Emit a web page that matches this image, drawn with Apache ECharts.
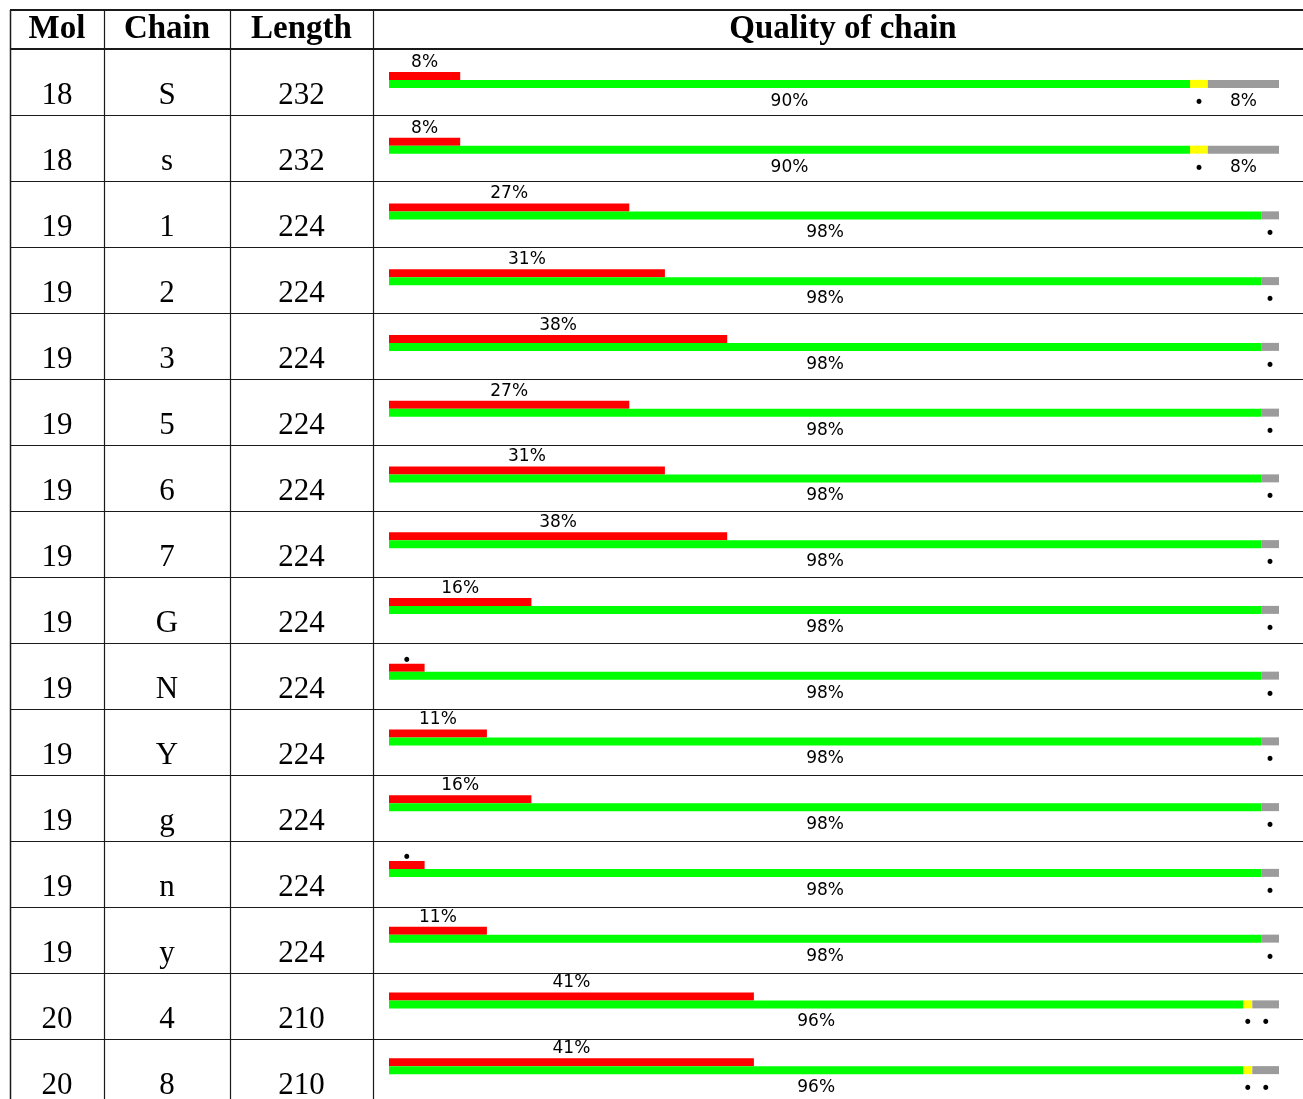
<!DOCTYPE html>
<html>
<head>
<meta charset="utf-8">
<script src="https://cdn.jsdelivr.net/npm/echarts@6/dist/echarts.min.js"></script>
<style>
html,body{margin:0;padding:0;background:#fff;}
#c{width:1303px;height:1099px;}
</style>
</head>
<body>
<div id="c"></div>
<script>
// ---- data ----
const mols    = [18, 18, 19, 19, 19, 19, 19, 19, 19, 19, 19, 19, 19, 19, 20, 20];
const chains  = ['S', 's', '1', '2', '3', '5', '6', '7', 'G', 'N', 'Y', 'g', 'n', 'y', '4', '8'];
const lengths = [232, 232, 224, 224, 224, 224, 224, 224, 224, 224, 224, 224, 224, 224, 210, 210];
const outlierPct = [8, 8, 27, 31, 38, 27, 31, 38, 16, 4, 11, 16, 4, 11, 41, 41];
const goodPct    = [90, 90, 98, 98, 98, 98, 98, 98, 98, 98, 98, 98, 98, 98, 96, 96];
const fairPct    = [2, 2, 0, 0, 0, 0, 0, 0, 0, 0, 0, 0, 0, 0, 1, 1];
const missingPct = [8, 8, 2, 2, 2, 2, 2, 2, 2, 2, 2, 2, 2, 2, 3, 3];
const headers = ['Mol', 'Chain', 'Length', 'Quality of chain'];

// ---- layout ----
const tableTop = 10, headBottom = 50, rowH = 66;
const colX = [10, 104, 230, 373, 1313];
const W = 1303;
const serif = '"Liberation Serif", "DejaVu Serif", serif';
const sans = '"DejaVu Sans", sans-serif';
const lineColor = '#1a1a1a';

const rowIdx = chains.map((c, i) => String(i));

const graphics = [];
graphics.push({type: 'line', shape: {x1: colX[0], y1: tableTop, x2: W, y2: tableTop}, style: {stroke: lineColor, lineWidth: 2}, silent: true});
graphics.push({type: 'line', shape: {x1: colX[0], y1: headBottom - 1, x2: W, y2: headBottom - 1}, style: {stroke: lineColor, lineWidth: 2}, silent: true});
for (let i = 1; i <= chains.length; i++) {
  const y = headBottom + rowH * i - 0.5;
  graphics.push({type: 'line', shape: {x1: colX[0], y1: y, x2: W, y2: y}, style: {stroke: lineColor, lineWidth: 1.2}, silent: true});
}
for (let k = 0; k < 4; k++) {
  const x = colX[k] + 0.5;
  graphics.push({type: 'line', shape: {x1: x, y1: tableTop, x2: x, y2: 1099}, style: {stroke: lineColor, lineWidth: k === 0 ? 1.5 : 1.2}, silent: true});
}
headers.forEach((h, k) => {
  graphics.push({type: 'text', x: (colX[k] + colX[k + 1]) / 2, y: 29,
    style: {text: h, font: 'bold 33px ' + serif, fill: '#000', align: 'center', verticalAlign: 'middle'}, silent: true});
});
const cols = [mols, chains, lengths];
for (let i = 0; i < chains.length; i++) {
  const cy = headBottom + rowH * i + 46;
  cols.forEach((arr, k) => {
    graphics.push({type: 'text', x: (colX[k] + colX[k + 1]) / 2, y: cy,
      style: {text: String(arr[i]), font: '31px ' + serif, fill: '#000', align: 'center', verticalAlign: 'middle'}, silent: true});
  });
}

const labelBase = {color: '#000', fontFamily: sans, fontSize: 17};
// percentage text for wide segments, a dot for narrow ones
const pctOrDot = v => (v >= 5 ? v + '%' : '•');
const topItems = vals => vals.map(v => ({value: v,
  label: {formatter: pctOrDot(v), offset: [0, v >= 5 ? 1 : 8]}}));
const bottomItems = (vals, fmt) => vals.map(v => {
  const t = fmt(v);
  return {value: v, label: {formatter: t, offset: [0, t === '•' ? 5 : 3]}};
});

const option = {
  animation: false,
  backgroundColor: '#fff',
  grid: {left: 389, width: 890, top: 47, height: rowH * chains.length},
  xAxis: {type: 'value', min: 0, max: 100, show: false},
  yAxis: {type: 'category', data: rowIdx, inverse: true, show: false},
  series: [
    {type: 'bar', name: 'outliers', stack: 'o', data: topItems(outlierPct), barWidth: 8, barGap: '0%',
      itemStyle: {color: '#ff0000'},
      label: Object.assign({show: true, position: 'top', distance: 2}, labelBase)},
    {type: 'bar', name: 'good', stack: 'q', data: bottomItems(goodPct, v => v + '%'), barWidth: 8,
      itemStyle: {color: '#00ff00'},
      label: Object.assign({show: true, position: 'bottom', distance: 2}, labelBase)},
    {type: 'bar', name: 'fair', stack: 'q', data: bottomItems(fairPct, v => (v > 0 ? '•' : '')), barWidth: 8,
      itemStyle: {color: '#ffff00'},
      label: Object.assign({show: true, position: 'bottom', distance: 2}, labelBase)},
    {type: 'bar', name: 'missing', stack: 'q', data: bottomItems(missingPct, pctOrDot), barWidth: 8,
      itemStyle: {color: '#9b9b9b'},
      label: Object.assign({show: true, position: 'bottom', distance: 2}, labelBase)}
  ],
  graphic: graphics
};

const chart = echarts.init(document.getElementById('c'), null, {renderer: 'canvas'});
chart.setOption(option);
</script>
</body>
</html>
